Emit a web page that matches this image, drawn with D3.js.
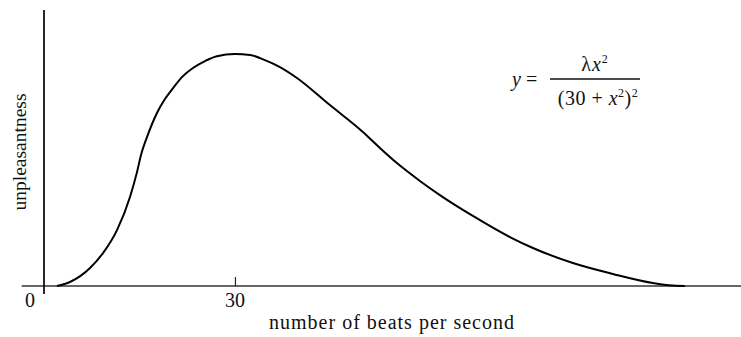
<!DOCTYPE html>
<html>
<head>
<meta charset="utf-8">
<script src="https://cdn.jsdelivr.net/npm/d3@7"></script>
<style>
  html, body { margin: 0; padding: 0; background: #fff; }
  svg { display: block; }
  text { font-family: "Liberation Serif", "DejaVu Serif", serif; fill: #111; }
</style>
</head>
<body>
<svg id="chart" width="741" height="337"></svg>
<script>
// number of beats per second (x) and unpleasantness (y, peak = 100)
const beats = [2.04, 4.08, 7.23, 9.27, 11.47, 13.51, 14.61, 15.24, 16.18, 17.75, 19.0, 20.26, 21.83, 23.4, 25.29, 27.17, 30, 32.36, 34.71, 37.07, 39.74, 44.92, 50.1, 52.77, 55.44, 59.06, 62.2, 67.38, 73.19, 76.81, 83.09, 89.37, 95.65, 98.8, 100.68];
const unpleasantness = [0, 1.72, 7.76, 14.2, 24.1, 38.4, 49.1, 56.5, 64.2, 74.6, 80.6, 85.3, 90.5, 94.0, 97.0, 99.1, 100, 99.6, 97.4, 94.4, 89.7, 78.0, 66.4, 59.5, 53.0, 45.3, 39.2, 30.2, 21.1, 16.4, 9.9, 5.2, 1.3, 0.2, 0];
const xTickValues = [0, 30];
const xTickLabels = ["0", "30"];
const xTitle = "number of beats per second";
const yTitle = "unpleasantness";

const svg = d3.select("#chart");
const x = d3.scaleLinear().domain([0, 109.5]).range([44, 741]);
const y = d3.scaleLinear().domain([0, 119]).range([286, 10]);

// x axis line with a single upward tick at 30
const xAxis = d3.axisTop(x).tickValues([30]).tickSize(9).tickSizeOuter(0).tickFormat("");
const gx = svg.append("g").attr("transform", `translate(0,${y(0)})`).call(xAxis);
gx.select(".domain").attr("d", `M${x(-3.5)},0H741`).attr("stroke", "#333").attr("stroke-width", 1.4);
gx.selectAll(".tick line").attr("stroke", "#222").attr("stroke-width", 1.2);

// y axis line (no ticks)
const yAxis = d3.axisLeft(y).tickValues([]).tickSizeOuter(0);
const gy = svg.append("g").attr("transform", `translate(${x(0)},0)`).call(yAxis);
gy.select(".domain").attr("d", `M0,${y(119)}V${y(0) + 8}`).attr("stroke", "#111").attr("stroke-width", 1.8);

// tick labels
svg.selectAll(".xlab").data(xTickValues).enter().append("text")
  .attr("class", "xlab")
  .attr("x", (d, i) => x(d) + (d === 0 ? -14 : 0))
  .attr("y", 307)
  .attr("text-anchor", "middle")
  .attr("font-size", 20)
  .text((d, i) => xTickLabels[i]);

// axis titles
svg.append("text").attr("x", 392).attr("y", 329).attr("text-anchor", "middle")
  .attr("font-size", 20).attr("letter-spacing", 1).text(xTitle);
svg.append("text").attr("transform", "translate(26,152) rotate(-90)").attr("text-anchor", "middle")
  .attr("font-size", 19.5).text(yTitle);

// curve
const line = d3.line()
  .x((d, i) => x(beats[i]))
  .y((d, i) => y(unpleasantness[i]))
  .curve(d3.curveMonotoneX);
svg.append("path").datum(unpleasantness)
  .attr("d", line)
  .attr("fill", "none")
  .attr("stroke", "#000")
  .attr("stroke-width", 2);

// formula
const f = svg.append("g");
f.append("text").attr("x", 512).attr("y", 86).attr("font-size", 20)
  .html('<tspan font-style="italic">y</tspan> =');
f.append("line").attr("x1", 550).attr("x2", 640).attr("y1", 79).attr("y2", 79)
  .attr("stroke", "#111").attr("stroke-width", 1.3);
f.append("text").attr("x", 595).attr("y", 71).attr("text-anchor", "middle").attr("font-size", 20)
  .attr("letter-spacing", 1)
  .html('λ<tspan font-style="italic">x</tspan><tspan dy="-8" font-size="12">2</tspan>');
f.append("text").attr("x", 598).attr("y", 105).attr("text-anchor", "middle").attr("font-size", 20)
  .attr("letter-spacing", 0.5)
  .html('(30 + <tspan font-style="italic">x</tspan><tspan dy="-8" font-size="12">2</tspan><tspan dy="8">)</tspan><tspan dy="-8" font-size="12">2</tspan>');
</script>
</body>
</html>
